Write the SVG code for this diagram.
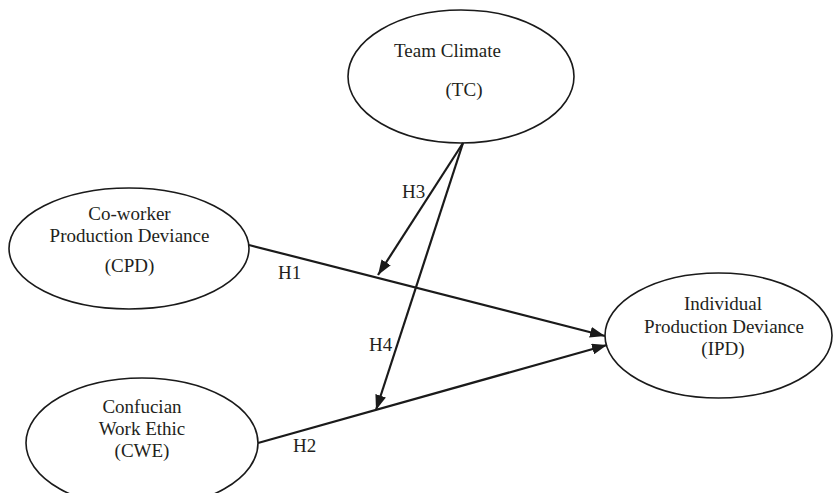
<svg xmlns="http://www.w3.org/2000/svg" width="834" height="493" viewBox="0 0 834 493">
  <style>
    .node ellipse { fill: #ffffff; stroke: #1a1a1a; stroke-width: 1.6; }
    text { font-family: "Liberation Serif", "Times New Roman", serif; font-size: 19px; fill: #231f20; }
    .c { text-anchor: middle; }
    .edge { stroke: #1a1a1a; stroke-width: 2.2; fill: none; marker-end: url(#arrow); }
  </style>
  <defs>
    <marker id="arrow" viewBox="0 0 15 11" refX="15" refY="5.5" markerWidth="15" markerHeight="11" markerUnits="userSpaceOnUse" orient="auto">
      <path d="M0,0 L15,5.5 L0,11 z" fill="#1a1a1a"/>
    </marker>
  </defs>
  <rect width="834" height="493" fill="#ffffff"/>

  <g id="TC" class="node">
    <ellipse cx="461" cy="76.5" rx="113" ry="66.5"/>
    <text x="447.5" y="57" class="c">Team Climate</text>
    <text x="464" y="96" class="c">(TC)</text>
  </g>

  <g id="CPD" class="node">
    <ellipse cx="129" cy="248.5" rx="120" ry="60.5"/>
    <text x="129.5" y="220" class="c">Co-worker</text>
    <text x="129.5" y="242" class="c">Production Deviance</text>
    <text x="129.5" y="272" class="c">(CPD)</text>
  </g>

  <g id="CWE" class="node">
    <ellipse cx="142" cy="443" rx="116" ry="65"/>
    <text x="142" y="413" class="c">Confucian</text>
    <text x="142" y="435" class="c">Work Ethic</text>
    <text x="142" y="457" class="c">(CWE)</text>
  </g>

  <g id="IPD" class="node">
    <ellipse cx="718.5" cy="335.5" rx="113.5" ry="62.5"/>
    <text x="723" y="310" class="c">Individual</text>
    <text x="724" y="333" class="c">Production Deviance</text>
    <text x="723" y="355" class="c">(IPD)</text>
  </g>

  <g id="connectors">
    <line class="edge" x1="249" y1="245" x2="605" y2="336"/>
    <line class="edge" x1="258" y1="443" x2="607" y2="345"/>
    <line class="edge" x1="463" y1="143" x2="378" y2="275"/>
    <line class="edge" x1="463" y1="143" x2="376" y2="410"/>
    <text x="278" y="279">H1</text>
    <text x="293" y="452">H2</text>
    <text x="402" y="198">H3</text>
    <text x="369" y="351">H4</text>
  </g>
</svg>
